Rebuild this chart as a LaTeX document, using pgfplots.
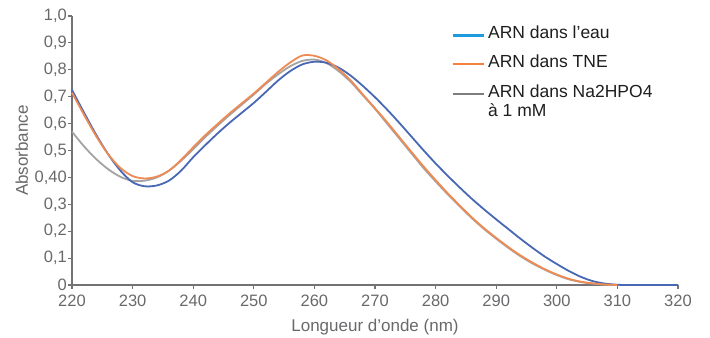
\documentclass[border=0pt]{standalone}
\usepackage{pgfplots}
\pgfplotsset{compat=1.18}
\usepackage{fontspec}
\setmainfont{Liberation Sans}
\definecolor{bluecurve}{RGB}{72,104,180}
\definecolor{bluelegend}{RGB}{30,155,222}
\definecolor{orangecurve}{RGB}{238,138,82}
\definecolor{orangelegend}{RGB}{245,130,60}
\definecolor{graycurve}{RGB}{165,162,162}
\definecolor{graylegend}{RGB}{125,125,125}
\definecolor{axisgray}{RGB}{115,115,118}
\definecolor{ticktext}{RGB}{105,105,108}
\definecolor{legtext}{RGB}{30,30,30}
\begin{document}
\begin{tikzpicture}
\begin{axis}[
  name=ax,
  scale only axis,
  width=606pt, height=269pt,
  xmin=220, xmax=320, ymin=0, ymax=1,
  xtick={220,230,...,320},
  ytick={0,0.1,...,1.0},
  yticklabels={0,{0,1},{0,2},{0,3},{0,40},{0,5},{0,6},{0,7},{0,8},{0,9},{1,0}},
  axis x line*=bottom, axis y line*=left,
  axis line style={axisgray, line width=1.6pt, -},
  tick style={axisgray, line width=1.2pt},
  tick align=outside,
  major tick length=4pt,
  x tick label style={font=\fontsize{16.5}{18}\selectfont, text=ticktext, inner sep=2pt, yshift=-4pt},
  y tick label style={font=\fontsize{16.5}{18}\selectfont, text=ticktext, inner sep=1pt},
  /pgf/number format/assume math mode=true,
  xlabel={Longueur d’onde (nm)},
  ylabel={Absorbance},
  xlabel style={font=\fontsize{17}{19}\selectfont, text=ticktext, at={(axis description cs:0.5,-0.155)}, anchor=center},
  ylabel style={font=\fontsize{17}{19}\selectfont, text=ticktext, at={(axis description cs:-0.083,0.5)}, anchor=center},
  clip=false,
  legend style={at={(axis cs:282.3,0.975)}, anchor=north west, draw=none, fill=none,
    font=\fontsize{17.5}{20}\selectfont, text=legtext, row sep=12.5pt, inner sep=2pt, column sep=2pt,
    nodes={anchor=base west, inner sep=1pt}},
  legend cell align=left,
  legend image code/.code={\draw[#1, line width=2.4pt] (0pt,0.3em) -- (31pt,0.3em);},
]
\addlegendimage{bluelegend}
\addlegendentry{ARN dans l’eau}
\addlegendimage{orangelegend}
\addlegendentry{ARN dans TNE}
\addlegendimage{graylegend}
\addlegendentry{\begin{tabular}[t]{@{}l@{}}ARN dans Na2HPO4\\[-1pt]à 1 mM\end{tabular}}

\addplot[graycurve, line width=1.8pt, smooth, forget plot] coordinates {
(220,0.570)(222,0.515)(224,0.468)(226,0.430)(228,0.402)(230,0.387)(232,0.388)(234,0.400)
(236,0.425)(238,0.462)(240,0.505)(242,0.550)(244,0.592)(246,0.632)(248,0.670)(250,0.708)
(252,0.748)(254,0.783)(256,0.813)(258,0.833)(260,0.838)(262,0.825)(264,0.795)(266,0.755)
(268,0.705)(270,0.655)(272,0.600)(274,0.545)(276,0.490)(278,0.435)(280,0.385)(282,0.337)
(284,0.292)(286,0.248)(288,0.208)(290,0.172)(292,0.138)(294,0.107)(296,0.080)(298,0.057)
(300,0.037)(302,0.021)(304,0.011)(306,0.005)(308,0.001)(310,0)(315,0)(320,0)};

\addplot[bluecurve, line width=1.8pt, smooth, forget plot] coordinates {
(220,0.725)(222,0.640)(224,0.558)(226,0.485)(228,0.425)(230,0.382)(232,0.367)(234,0.370)
(236,0.388)(238,0.425)(240,0.475)(242,0.520)(244,0.563)(246,0.603)(248,0.640)(250,0.677)
(252,0.718)(254,0.760)(256,0.795)(258,0.820)(260,0.830)(262,0.826)(264,0.808)(266,0.778)
(268,0.740)(270,0.698)(272,0.652)(274,0.603)(276,0.552)(278,0.501)(280,0.452)(282,0.406)
(284,0.362)(286,0.320)(288,0.281)(290,0.244)(292,0.208)(294,0.172)(296,0.138)(298,0.106)
(300,0.078)(302,0.052)(304,0.030)(306,0.014)(308,0.005)(310,0.001)(312,0)(320,0)};

\addplot[orangecurve, line width=1.8pt, smooth, forget plot] coordinates {
(220,0.715)(222,0.632)(224,0.553)(226,0.485)(228,0.435)(230,0.405)(232,0.396)(234,0.403)
(236,0.425)(238,0.465)(240,0.512)(242,0.557)(244,0.598)(246,0.638)(248,0.675)(250,0.712)
(252,0.752)(254,0.792)(256,0.827)(258,0.853)(260,0.852)(262,0.835)(264,0.802)(266,0.760)
(268,0.708)(270,0.657)(272,0.605)(274,0.550)(276,0.495)(278,0.441)(280,0.390)(282,0.341)
(284,0.295)(286,0.251)(288,0.211)(290,0.175)(292,0.141)(294,0.110)(296,0.083)(298,0.059)
(300,0.039)(302,0.023)(304,0.012)(306,0.006)(308,0.002)(310,0)};
\end{axis}
\path ([xshift=-72pt,yshift=-52pt]ax.south west) rectangle ([xshift=32pt,yshift=16pt]ax.north east);
\end{tikzpicture}
\end{document}
